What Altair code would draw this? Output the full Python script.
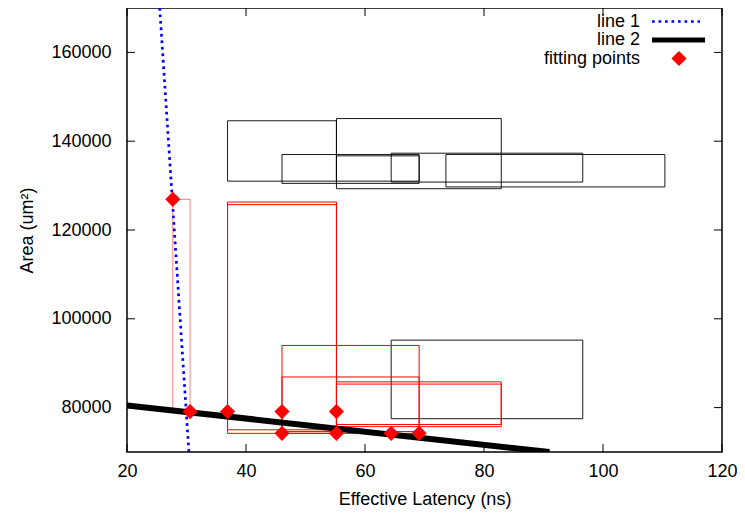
import altair as alt
import pandas as pd

# ---- data ----
x_ticks = [20, 40, 60, 80, 100, 120]
y_ticks = [80000, 100000, 120000, 140000, 160000]

fit_x = [27.7, 30.6, 36.9, 46.05, 55.2, 46.05, 55.2, 64.4, 69.1]
fit_y = [126900, 79100, 79100, 79100, 79100, 74200, 74200, 74200, 74200]

line1_x = [25.5, 30.4]
line1_y = [170000, 70000]
line2_x = [20, 91]
line2_y = [80500, 70000]

black_x1 = [36.9, 55.2, 46.05, 55.2, 64.4, 73.6, 64.4]
black_x2 = [55.2, 82.9, 69.1, 69.1, 96.6, 110.4, 96.6]
black_y1 = [131000, 129300, 130500, 131000, 130800, 129700, 77500]
black_y2 = [144600, 145100, 137000, 136700, 137300, 137000, 95200]

pale_x1 = [27.7]
pale_x2 = [30.6]
pale_y1 = [79100]
pale_y2 = [126900]

red_x1 = [36.9, 36.9, 46.05, 46.05, 55.2, 55.2]
red_x2 = [55.2, 55.2, 69.1, 69.1, 82.9, 82.9]
red_y1 = [74200, 75000, 74200, 74600, 75700, 76200]
red_y2 = [126300, 125700, 94000, 86900, 85800, 85300]

legend_labels = ["line 1", "line 2", "fitting points"]

W, H = 595, 444
FONT = "Liberation Sans"
FS = 18

xs = alt.Scale(domain=[20, 120], nice=False, zero=False)
ys = alt.Scale(domain=[70000, 170000], nice=False, zero=False)

X_AXIS = alt.Axis(values=x_ticks, labelFlush=False, ticks=False, domain=False, grid=False,
                  labelFont=FONT, labelFontSize=FS, labelColor="black", labelPadding=10,
                  title="Effective Latency (ns)", titleFont=FONT, titleFontSize=FS,
                  titleFontWeight="normal", titleColor="black", titlePadding=10)
Y_AXIS = alt.Axis(values=y_ticks, format="d", labelFlush=False, ticks=False, domain=False, grid=False,
                  labelFont=FONT, labelFontSize=FS, labelColor="black", labelPadding=16,
                  title="Area (um²)", titleFont=FONT, titleFontSize=FS,
                  titleFontWeight="normal", titleColor="black", titlePadding=14)


def rects(x1, x2, y1, y2, color, opacity=1.0):
    df = pd.DataFrame({"x1": x1, "x2": x2, "y1": y1, "y2": y2})
    return alt.Chart(df).mark_rect(fillOpacity=0, stroke=color, strokeWidth=1,
                                   strokeOpacity=opacity, clip=True).encode(
        x=alt.X("x1:Q", scale=xs, axis=X_AXIS), x2="x2:Q",
        y=alt.Y("y1:Q", scale=ys, axis=Y_AXIS), y2="y2:Q")


black = rects(black_x1, black_x2, black_y1, black_y2, "black", 0.9)
pale = rects(pale_x1, pale_x2, pale_y1, pale_y2, "#ff0000", 0.5)
red = rects(red_x1, red_x2, red_y1, red_y2, "#ff0000", 1.0)

l1 = alt.Chart(pd.DataFrame({"x": line1_x, "y": line1_y})).mark_line(
    color="#0000ff", strokeWidth=2.7, strokeDash=[2.7, 3.8], clip=True).encode(
    x=alt.X("x:Q", scale=xs), y=alt.Y("y:Q", scale=ys))
l2 = alt.Chart(pd.DataFrame({"x": line2_x, "y": line2_y})).mark_line(
    color="black", strokeWidth=6, clip=True).encode(
    x=alt.X("x:Q", scale=xs), y=alt.Y("y:Q", scale=ys))
pts = alt.Chart(pd.DataFrame({"x": fit_x, "y": fit_y})).mark_point(
    shape="diamond", filled=True, color="#ff0000", opacity=1, size=230).encode(
    x=alt.X("x:Q", scale=xs), y=alt.Y("y:Q", scale=ys))

xt = pd.DataFrame({"t": x_ticks})
yt = pd.DataFrame({"t": y_ticks})
tb = alt.Chart(xt).mark_rule(color="black", strokeWidth=1).encode(
    x=alt.X("t:Q", scale=xs), y=alt.value(H), y2=alt.value(H - 8))
tt = alt.Chart(xt).mark_rule(color="black", strokeWidth=1).encode(
    x=alt.X("t:Q", scale=xs), y=alt.value(0), y2=alt.value(8))
tl = alt.Chart(yt).mark_rule(color="black", strokeWidth=1).encode(
    y=alt.Y("t:Q", scale=ys), x=alt.value(0), x2=alt.value(8))
tr = alt.Chart(yt).mark_rule(color="black", strokeWidth=1).encode(
    y=alt.Y("t:Q", scale=ys), x=alt.value(W), x2=alt.value(W - 8))

row_y = [13.5, 32, 50.5]
leg = []
for i, lab in enumerate(legend_labels):
    leg.append(alt.Chart(pd.DataFrame({"label": [lab]})).mark_text(
        align="right", baseline="middle", font=FONT, fontSize=FS, color="black").encode(
        text="label:N", x=alt.value(513), y=alt.value(row_y[i])))
one = pd.DataFrame({"k": [0]})
leg.append(alt.Chart(one).mark_rule(color="#0000ff", strokeWidth=2.7, strokeDash=[2.7, 3.8]).encode(
    x=alt.value(525), x2=alt.value(573), y=alt.value(row_y[0])))
leg.append(alt.Chart(one).mark_rule(color="black", strokeWidth=5).encode(
    x=alt.value(525), x2=alt.value(578), y=alt.value(row_y[1])))
leg.append(alt.Chart(one).mark_point(shape="diamond", filled=True, color="#ff0000", opacity=1, size=230).encode(
    x=alt.value(552), y=alt.value(row_y[2])))

chart = alt.layer(black, pale, red, l1, l2, pts, tb, tt, tl, tr, *leg).properties(
    width=W, height=H,
    autosize=alt.AutoSizeParams(type="none"),
    padding={"left": 119, "top": 0, "right": 15, "bottom": 60},
    background="white",
).configure_view(stroke="black", strokeWidth=1.5)

chart.save("out.html", embed_options={"renderer": "svg", "actions": False})
